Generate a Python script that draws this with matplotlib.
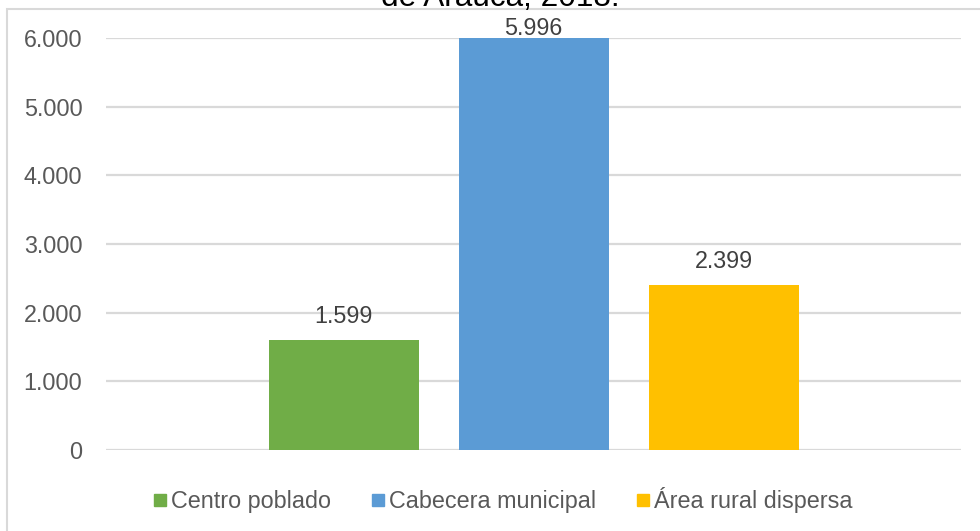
import matplotlib.pyplot as plt
from matplotlib.lines import Line2D
from matplotlib.patches import Rectangle

# datos
series = ['Centro poblado', 'Cabecera municipal', 'Área rural dispersa']
valores = [1599, 5996, 2399]
etiquetas = ['1.599', '5.996', '2.399']
ticks_y = [0, 1000, 2000, 3000, 4000, 5000, 6000]
ticks_lbl = ['0', '1.000', '2.000', '3.000', '4.000', '5.000', '6.000']
colores = ['#70AD47', '#5B9BD5', '#FFC000']

plt.rcParams['font.family'] = ['Liberation Sans', 'DejaVu Sans']
W, H = 980, 531
fig = plt.figure(figsize=(W / 100, H / 100), dpi=100)
ax = fig.add_axes([106 / W, 1 - 450 / H, (961 - 106) / W, (450 - 38) / H])

ancho = 150 / 855
paso = 190 / 855
for i, (s, v, c) in enumerate(zip(series, valores, colores)):
    ax.bar((i - 1) * paso, v, width=ancho, color=c, label=s, zorder=3)

ax.set_xlim(-0.5, 0.5)
ax.set_ylim(0, 6000)
ax.set_yticks(ticks_y)
ax.set_yticklabels(ticks_lbl)
ax.set_xticks([])
ax.tick_params(axis='y', length=0, pad=17, labelsize=16.8, labelcolor='#595959')
for sp in ax.spines.values():
    sp.set_visible(False)
ax.grid(axis='y', color='#d9d9d9', linewidth=1.6, zorder=0)

# etiquetas de datos (la que se sale queda dentro del grafico)
px_per_unit = (450 - 38) / 6000
for i, (v, t) in enumerate(zip(valores, etiquetas)):
    top_px = 450 - v * px_per_unit
    off = min(17, top_px - 35)
    ax.annotate(t, xy=((i - 1) * paso, v), xytext=(0, off), textcoords='offset pixels',
                ha='center', va='baseline', fontsize=16.8, color='#404040',
                annotation_clip=False, zorder=4)

# leyenda
handles = [Line2D([], [], linestyle='none', marker='s', markersize=8.6,
                  markerfacecolor=c, markeredgecolor=c) for c in colores]
fig.legend(handles, series, loc='center', bbox_to_anchor=(503 / W, 1 - 500 / H),
           ncol=3, frameon=False, fontsize=16.8, handlelength=0.55,
           handletextpad=0.2, columnspacing=1.75, borderpad=0, labelcolor='#595959')

# borde del grafico
fig.patches.append(Rectangle((7 / W, -0.1), 1.2, 1.1 - 9 / H, transform=fig.transFigure,
                             fill=False, edgecolor='#d9d9d9', linewidth=1.5))

fig.text(500 / W, 1 - 6 / H, 'de Arauca, 2018.', ha='center', va='baseline',
         fontsize=22.7, color='black')

fig.savefig('out.png', dpi=100)
